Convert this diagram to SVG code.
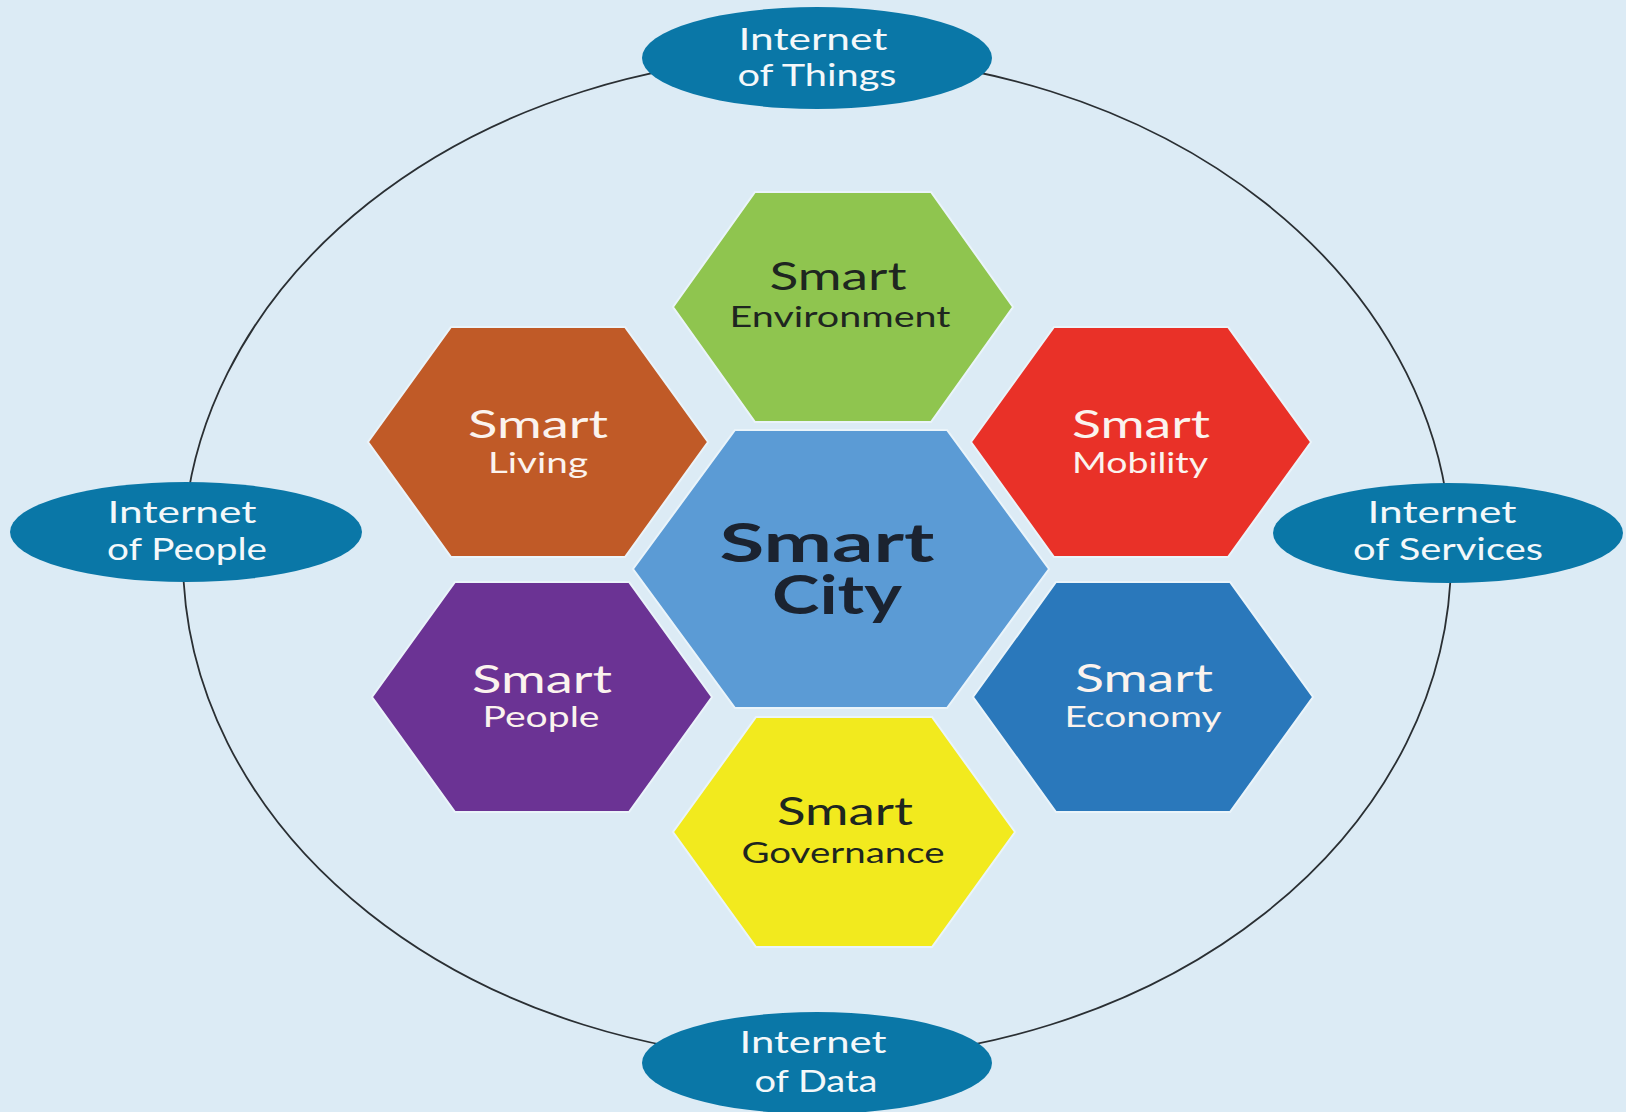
<svg xmlns="http://www.w3.org/2000/svg" width="1626" height="1112" viewBox="0 0 1626 1112">
<style>
.t{font-family:"Lato","Noto Sans","Liberation Sans",sans-serif;text-anchor:middle}
.ell{fill:#0a77a7}
.et{fill:#f4f8fa;font-size:30px}
.hex{stroke:#eaf4fa;stroke-width:2}
.s1{font-size:38px}
.s2{font-size:29px}
.lt{fill:#fbf3ee}
.dk{fill:#1e2620}
.ring{fill:none;stroke:#2a2f33;stroke-width:1.8}
</style>
<rect width="1626" height="1112" fill="#dcebf5"/>
<g id="connectors">
<ellipse class="ring" cx="817" cy="558" rx="634" ry="502"/>
</g>
<g id="iot">
<ellipse class="ell" cx="817" cy="58" rx="175" ry="51"/>
<text class="t et" x="813" y="50" textLength="149" lengthAdjust="spacingAndGlyphs">Internet</text>
<text class="t et" x="817" y="86" textLength="159" lengthAdjust="spacingAndGlyphs">of Things</text>
</g>
<g id="iop">
<ellipse class="ell" cx="186" cy="532" rx="176" ry="50"/>
<text class="t et" x="182" y="523" textLength="149" lengthAdjust="spacingAndGlyphs">Internet</text>
<text class="t et" x="187" y="560" textLength="160" lengthAdjust="spacingAndGlyphs">of People</text>
</g>
<g id="ios">
<ellipse class="ell" cx="1448" cy="533" rx="175" ry="50"/>
<text class="t et" x="1442" y="523" textLength="149" lengthAdjust="spacingAndGlyphs">Internet</text>
<text class="t et" x="1448" y="560" textLength="190" lengthAdjust="spacingAndGlyphs">of Services</text>
</g>
<g id="iod">
<ellipse class="ell" cx="817" cy="1063" rx="175" ry="51"/>
<text class="t et" x="813" y="1053" textLength="147" lengthAdjust="spacingAndGlyphs">Internet</text>
<text class="t et" x="816" y="1092" textLength="123" lengthAdjust="spacingAndGlyphs">of Data</text>
</g>
<g id="environment">
<polygon class="hex" fill="#8fc54f" points="673,307 755,192 931,192 1013,307 931,422 755,422"/>
<text class="t s1 dk" x="838" y="290" textLength="137" lengthAdjust="spacingAndGlyphs">Smart</text>
<text class="t s2 dk" x="840" y="327" textLength="221" lengthAdjust="spacingAndGlyphs">Environment</text>
</g>
<g id="living">
<polygon class="hex" fill="#c05a27" points="368,442 451,327 625,327 708,442 625,557 451,557"/>
<text class="t s1 lt" x="538" y="438" textLength="140" lengthAdjust="spacingAndGlyphs">Smart</text>
<text class="t s2 lt" x="538" y="473" textLength="100" lengthAdjust="spacingAndGlyphs">Living</text>
</g>
<g id="mobility">
<polygon class="hex" fill="#e93128" points="971,442 1054,327 1228,327 1311,442 1228,557 1054,557"/>
<text class="t s1 lt" x="1141" y="438" textLength="138" lengthAdjust="spacingAndGlyphs">Smart</text>
<text class="t s2 lt" x="1140" y="473" textLength="136" lengthAdjust="spacingAndGlyphs">Mobility</text>
</g>
<g id="people">
<polygon class="hex" fill="#6b3394" points="372,697 455,582 629,582 712,697 629,812 455,812"/>
<text class="t s1 lt" x="542" y="693" textLength="140" lengthAdjust="spacingAndGlyphs">Smart</text>
<text class="t s2 lt" x="541" y="727" textLength="117" lengthAdjust="spacingAndGlyphs">People</text>
</g>
<g id="economy">
<polygon class="hex" fill="#2a78bb" points="973,697 1056,582 1230,582 1313,697 1230,812 1056,812"/>
<text class="t s1 lt" x="1144" y="692" textLength="138" lengthAdjust="spacingAndGlyphs">Smart</text>
<text class="t s2 lt" x="1143" y="727" textLength="157" lengthAdjust="spacingAndGlyphs">Economy</text>
</g>
<g id="governance">
<polygon class="hex" fill="#f2ea1e" points="673,832 756,717 932,717 1015,832 932,947 756,947"/>
<text class="t s1 dk" x="845" y="825" textLength="136" lengthAdjust="spacingAndGlyphs">Smart</text>
<text class="t s2 dk" x="843" y="863" textLength="203" lengthAdjust="spacingAndGlyphs">Governance</text>
</g>
<g id="city">
<polygon class="hex" fill="#5b9bd5" points="633,569 735,430 947,430 1049,569 947,708 735,708"/>
<text class="t" x="827" y="562" font-size="54" font-weight="700" textLength="215" lengthAdjust="spacingAndGlyphs" fill="#1b2330">Smart</text>
<text class="t" x="837" y="614" font-size="54" font-weight="700" textLength="130" lengthAdjust="spacingAndGlyphs" fill="#1b2330">City</text>
</g>
</svg>
